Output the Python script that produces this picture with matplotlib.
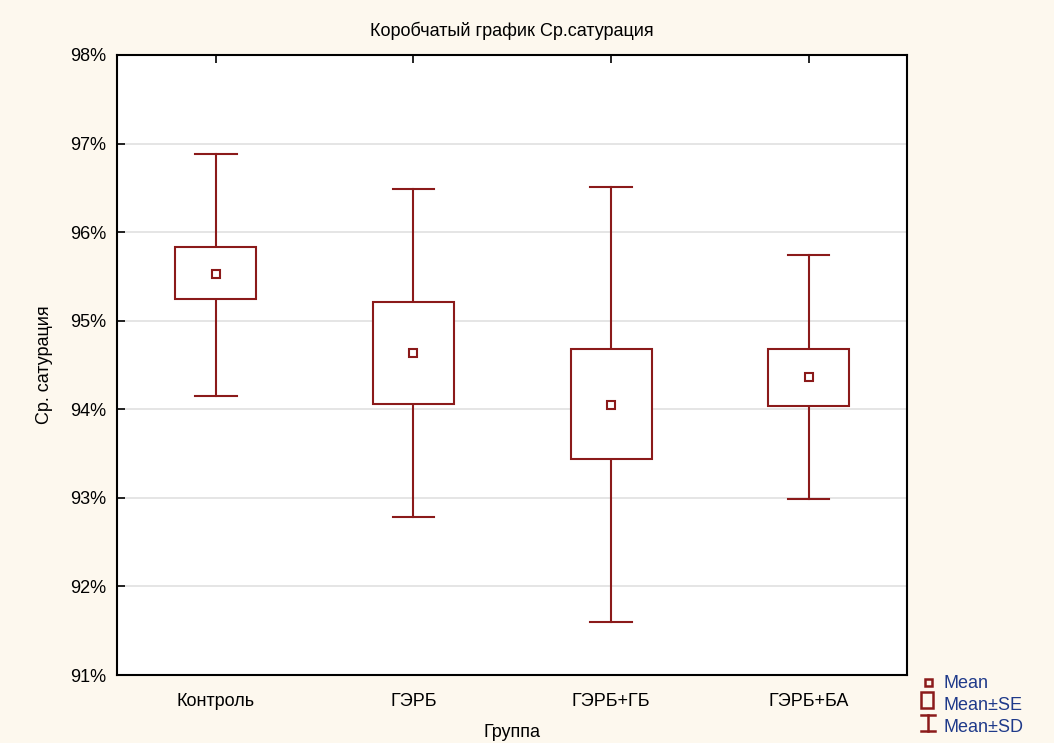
import matplotlib.pyplot as plt
from matplotlib.patches import Rectangle

plt.rcParams['font.family'] = ['Liberation Sans', 'DejaVu Sans']

groups = ["Контроль", "ГЭРБ", "ГЭРБ+ГБ", "ГЭРБ+БА"]
mean = [95.53, 94.64, 94.05, 94.36]
se_low = [95.25, 94.06, 93.44, 94.04]
se_high = [95.83, 95.21, 94.68, 94.68]
sd_low = [94.15, 92.78, 91.60, 92.99]
sd_high = [96.88, 96.49, 96.51, 95.74]
legend_labels = ["Mean", "Mean±SE", "Mean±SD"]

red = "#8B1A1A"
bg = "#FDF8EE"
fs = 13

fig = plt.figure(figsize=(10.54, 7.43), dpi=100, facecolor=bg)
ax = fig.add_axes([0.111, 0.0915, 0.75, 0.8345])
ax.set_facecolor("white")

box_w = 0.41
cap_w = 0.21
for i, g in enumerate(groups):
    x = i + 1
    # whiskers
    ax.plot([x, x], [se_high[i], sd_high[i]], color=red, lw=1.5, zorder=3)
    ax.plot([x, x], [sd_low[i], se_low[i]], color=red, lw=1.5, zorder=3)
    ax.plot([x - cap_w / 2, x + cap_w / 2], [sd_high[i]] * 2, color=red, lw=1.5, zorder=3)
    ax.plot([x - cap_w / 2, x + cap_w / 2], [sd_low[i]] * 2, color=red, lw=1.5, zorder=3)
    # box
    ax.add_patch(Rectangle((x - box_w / 2, se_low[i]), box_w, se_high[i] - se_low[i],
                           facecolor="white", edgecolor=red, lw=1.5, zorder=3))
    # mean
    ax.plot(x, mean[i], marker="s", ms=6, mfc="white", mec=red, mew=1.5, zorder=4)

ax.set_xlim(0.5, 4.5)
ax.set_ylim(91, 98)
ax.set_xticks(range(1, 5))
ax.set_xticklabels(groups, fontsize=fs)
ax.set_yticks(range(91, 99))
ax.set_yticklabels([f"{v}%" for v in range(91, 99)], fontsize=fs)
ax.tick_params(axis="both", direction="in", length=6, width=1.2, top=True, bottom=False)
ax.tick_params(axis="x", pad=13)
ax.tick_params(axis="y", pad=8)
ax.grid(axis="y", color="#e0e0e0", lw=1.2)
ax.set_axisbelow(True)
for s in ax.spines.values():
    s.set_linewidth(1.5)

ax.set_title("Коробчатый график Ср.сатурация", fontsize=fs, pad=14)
ax.set_xlabel("Группа", fontsize=fs, labelpad=10)
ax.set_ylabel("Ср. сатурация", fontsize=fs, labelpad=12)

# legend drawn by hand in a small pixel-coordinate axes
lg = fig.add_axes([900 / 1054, 0, 154 / 1054, 80 / 743])
lg.set_xlim(900, 1054)
lg.set_ylim(743, 663)
lg.axis("off")
lg.add_patch(Rectangle((925, 679), 7, 7, fill=False, edgecolor=red, lw=1.8))
lg.add_patch(Rectangle((921, 692), 12, 16, fill=False, edgecolor=red, lw=1.8))
lg.plot([928, 928], [715, 731], color=red, lw=1.8)
lg.plot([921, 935], [715, 715], color=red, lw=1.8)
lg.plot([921, 935], [731, 731], color=red, lw=1.8)
for k, lab in enumerate(legend_labels):
    lg.text(944, 684 + k * 22, lab, fontsize=fs, color="#1f3a8a", va="center", ha="left")

fig.savefig("out.png", dpi=100, facecolor=bg)
